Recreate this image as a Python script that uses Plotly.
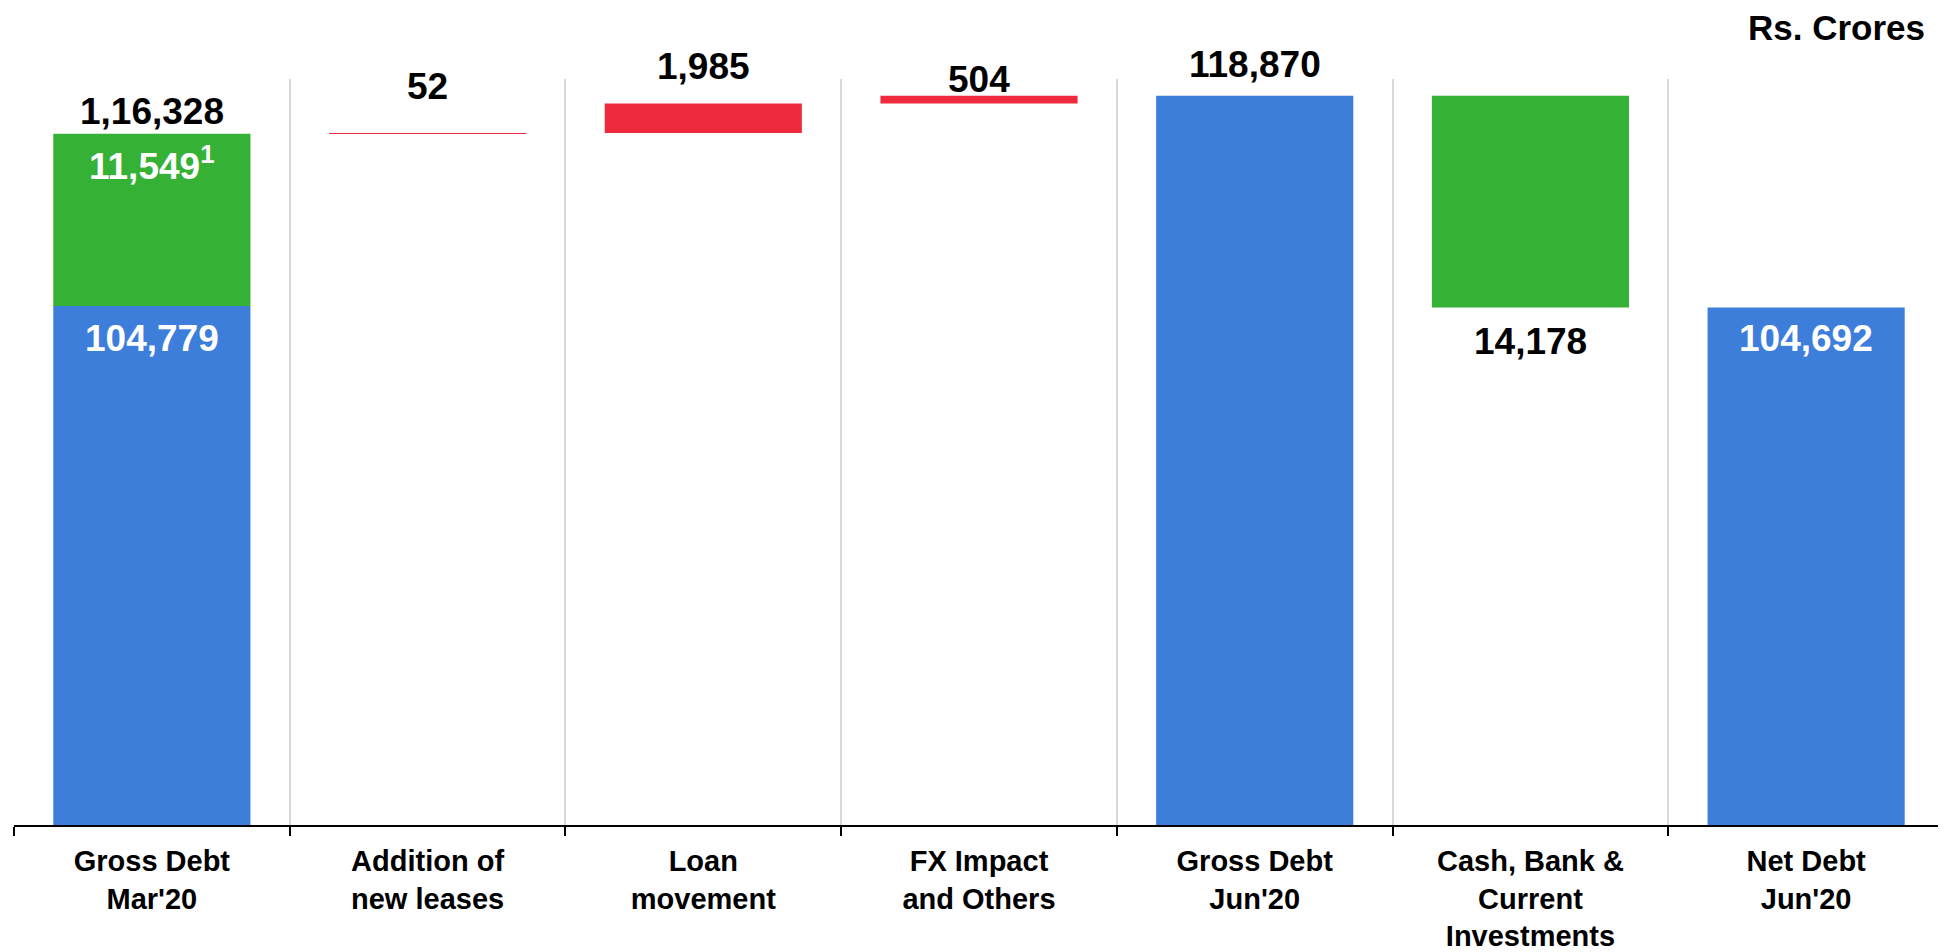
import plotly.graph_objects as go

# ---------------- data ----------------
categories = [
    "Gross Debt<br>Mar'20",
    "Addition of<br>new leases",
    "Loan<br>movement",
    "FX Impact<br>and Others",
    "Gross Debt<br>Jun'20",
    "Cash, Bank &<br>Current<br>Investments",
    "Net Debt<br>Jun'20",
]
gross_debt_mar20 = 104779
lease_mar20 = 11549
total_mar20_label = "1,16,328"
increase_values = [52, 1985, 504]          # new leases, loan movement, FX & others
increase_labels = ["52", "1,985", "504"]
gross_debt_jun20 = 118870
cash_investments = 14178
net_debt_jun20 = 104692
unit_label = "Rs. Crores"

# ---------------- style ----------------
BLUE = "#3D7EDB"
GREEN = "#35B235"
RED = "#EE2A3C"
FONT = "Liberation Sans, Arial, sans-serif"
BAR_W = 0.715

total_mar20 = gross_debt_mar20 + lease_mar20
inc_bases = []
run = total_mar20
for v in increase_values:
    inc_bases.append(run)
    run += v

fig = go.Figure()
fig.add_trace(go.Bar(
    x=[categories[0], categories[4], categories[6]],
    y=[gross_debt_mar20, gross_debt_jun20, net_debt_jun20],
    marker=dict(color=BLUE, line=dict(width=0)), width=BAR_W, hoverinfo="skip",
))
fig.add_trace(go.Bar(
    x=[categories[0], categories[5]],
    y=[lease_mar20, cash_investments],
    base=[gross_debt_mar20, net_debt_jun20],
    marker=dict(color=GREEN, line=dict(width=0)), width=BAR_W, hoverinfo="skip",
))
fig.add_trace(go.Bar(
    x=categories[1:4],
    y=increase_values,
    base=inc_bases,
    marker=dict(color=RED, line=dict(width=0)), width=BAR_W, hoverinfo="skip",
))

ann = []
def lab(x, y, text, anchor, shift, color="black", size=37):
    ann.append(dict(x=x, y=y, xref="x", yref="y", text=text, showarrow=False,
                    yanchor=anchor, xanchor="center", yshift=shift,
                    font=dict(family=FONT, size=size, color=color, weight="bold")))

lab(categories[0], total_mar20, total_mar20_label, "bottom", 0)
lab(categories[0], total_mar20, f"{lease_mar20:,}<sup>1</sup>", "top", -4, "white")
lab(categories[0], gross_debt_mar20, f"{gross_debt_mar20:,}", "top", -10, "white")
shifts = [24, 14, -6]
for i, (v, b, t) in enumerate(zip(increase_values, inc_bases, increase_labels)):
    lab(categories[1 + i], b + v, t, "bottom", shifts[i])
lab(categories[4], gross_debt_jun20, f"{gross_debt_jun20:,}", "bottom", 9)
lab(categories[5], net_debt_jun20, f"{cash_investments:,}", "top", -12)
lab(categories[6], net_debt_jun20, f"{net_debt_jun20:,}", "top", -9, "white")

ann.append(dict(x=1, y=1.040, xref="paper", yref="paper", text=unit_label,
                showarrow=False, xanchor="right", yanchor="bottom", xshift=-17,
                font=dict(family=FONT, size=35, color="black", weight="bold")))

fig.update_layout(
    width=1946, height=952,
    margin=dict(l=6, r=10, t=71, b=135),
    plot_bgcolor="white", paper_bgcolor="white",
    showlegend=False, barmode="overlay",
    annotations=ann,
    xaxis=dict(
        type="category", categoryorder="array", categoryarray=categories,
        range=[-0.5, 6.5], tickson="boundaries", automargin=False,
        showgrid=True, gridcolor="#d9d9d9", gridwidth=2,
        ticks="outside", ticklen=9, tickwidth=1.5, tickcolor="black",
        showline=True, linecolor="black", linewidth=2,
        ticklabelstandoff=9,
        tickfont=dict(family=FONT, size=29, color="black", weight="bold"),
    ),
    yaxis=dict(range=[70000, 120000], visible=False, fixedrange=True, automargin=False),
)

fig.write_html("out.html")
